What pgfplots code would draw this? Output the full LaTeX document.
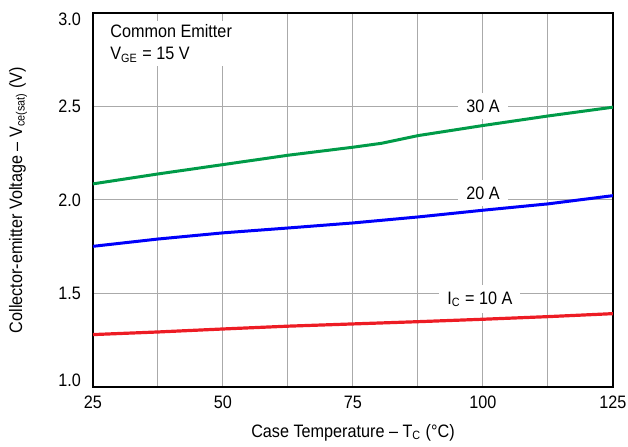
\documentclass[border=0pt]{standalone}
\usepackage{fontspec}
\setmainfont{Liberation Sans}[FakeStretch=0.9]
\usepackage{pgfplots}
\pgfplotsset{compat=1.18}
\definecolor{cgreen}{RGB}{0,155,72}
\definecolor{cblue}{RGB}{0,0,250}
\definecolor{cred}{RGB}{237,28,36}
\definecolor{cgrid}{RGB}{170,170,170}
\begin{document}
\begin{tikzpicture}[font=\fontsize{9}{11}\selectfont]
\begin{axis}[
    scale only axis,
    width=260pt, height=187pt,
    xmin=25, xmax=125, ymin=1, ymax=3,
    xtick={25,50,75,100,125},
    minor xtick={37.5,62.5,87.5,112.5},
    ytick={1,1.5,2,2.5,3},
    yticklabels={\raisebox{3.5pt}[\height][0pt]{1.0},1.5,2.0,2.5,\raisebox{-3pt}[\height][0pt]{3.0}},
    grid=both,
    grid style={cgrid, line width=0.5pt},
    minor grid style={cgrid, line width=0.5pt},
    major tick length=0pt, minor tick length=0pt,
    axis line style={line width=0.8pt},
    /pgf/number format/assume math mode=true,
    xticklabel style={yshift=-1pt, inner xsep=0pt},
    yticklabel style={xshift=-2.5pt},
    every axis x label/.style={at={(rel axis cs:0.5,0)}, yshift=-23pt, anchor=center, inner sep=0pt},
    every axis y label/.style={at={(rel axis cs:0,0.5)}, xshift=-37.5pt, rotate=90, anchor=center, inner sep=0pt},
    xlabel={Case Temperature – T\textsubscript{C} (°C)},
    ylabel={Collector-emitter Voltage – V\textsubscript{ce(sat)} (V)},
]
% 30 A
\addplot[cgreen, line width=1.5pt] coordinates {
    (25,2.086) (37.5,2.139) (50,2.189) (62.5,2.239) (75,2.282) (80.5,2.303)
    (87.5,2.344) (100,2.398) (112.5,2.449) (125,2.496)
};
% 20 A
\addplot[cblue, line width=1.5pt] coordinates {
    (25,1.752) (37.5,1.791) (50,1.824) (62.5,1.850) (75,1.877)
    (87.5,1.909) (100,1.945) (112.5,1.979) (125,2.023)
};
% 10 A
\addplot[cred, line width=1.6pt] coordinates {
    (25,1.280) (37.5,1.294) (50,1.310) (62.5,1.325) (75,1.337)
    (87.5,1.349) (100,1.362) (112.5,1.376) (125,1.392)
};
\node[fill=white, align=left, anchor=north west, inner sep=2pt] at (axis cs:27.5,2.96)
    {Common Emitter\\V\textsubscript{GE} = 15 V};
\node[fill=white, inner xsep=4pt] at (axis cs:100,2.5) {30 A};
\node[fill=white, inner xsep=4pt] at (axis cs:100,2.035) {20 A};
\node[fill=white, inner xsep=4pt] at (axis cs:99.4,1.47) {I\textsubscript{C} = 10 A};
\coordinate (sw) at (rel axis cs:0,0);
\coordinate (ne) at (rel axis cs:1,1);
\end{axis}
\path ([shift={(-46.5pt,-30pt)}]sw) rectangle ([shift={(7.5pt,5pt)}]ne);
\end{tikzpicture}
\end{document}
